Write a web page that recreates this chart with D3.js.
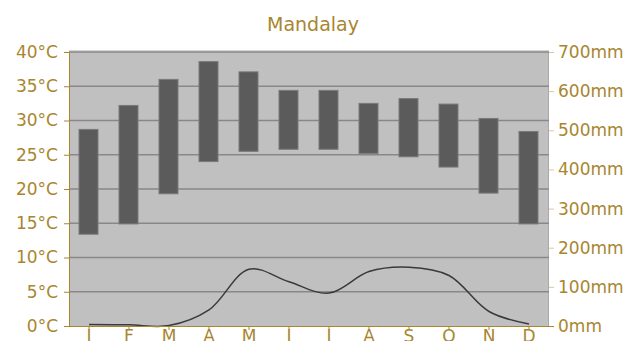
<!DOCTYPE html>
<html>
<head>
<meta charset="utf-8">
<script src="https://cdn.jsdelivr.net/npm/d3@7"></script>
<style>
  html, body { margin: 0; padding: 0; background: #fff; }
  svg { display: block; }
  text { font-family: "DejaVu Sans", Verdana, sans-serif; }
</style>
</head>
<body>
<svg id="chart" width="637" height="341"></svg>
<script>
// Mandalay climate: monthly temperature range (bars) and precipitation (line)
const months = ["Jan", "Feb", "Mar", "Apr", "May", "Jun", "Jul", "Aug", "Sep", "Oct", "Nov", "Dec"];
const monthLabels = ["J", "F", "M", "A", "M", "J", "J", "A", "S", "O", "N", "D"];
const tempHigh = [28.7, 32.2, 36.0, 38.6, 37.1, 34.4, 34.4, 32.5, 33.2, 32.4, 30.3, 28.4];
const tempLow = [13.4, 14.9, 19.3, 24.0, 25.5, 25.8, 25.8, 25.2, 24.7, 23.2, 19.4, 14.9];
const precip = [4, 3, 1, 41, 145, 113, 84, 139, 150, 129, 37, 5];
const tempTicks = [0, 5, 10, 15, 20, 25, 30, 35, 40];
const precipTicks = [0, 100, 200, 300, 400, 500, 600, 700];

const gold = "#a8862f";
const svg = d3.select("#chart");
const plotLeft = 69, plotRight = 549, plotTop = 52, plotBottom = 326;

const x = d3.scaleBand().domain(months).range([plotLeft, plotRight]).padding(0);
const yT = d3.scaleLinear().domain([0, 40]).range([plotBottom, plotTop]);
const yP = d3.scaleLinear().domain([0, 700]).range([plotBottom, plotTop]);
const bw = x.bandwidth();

// title
svg.append("text")
  .attr("x", 313).attr("y", 31)
  .attr("text-anchor", "middle")
  .attr("font-size", 19)
  .attr("fill", gold)
  .text("Mandalay");

// plot background with a soft top edge
svg.append("rect")
  .attr("x", plotLeft).attr("y", plotTop - 2)
  .attr("width", plotRight - plotLeft).attr("height", 2)
  .attr("fill", "#d6d6d6");
svg.append("rect")
  .attr("x", plotLeft).attr("y", plotTop)
  .attr("width", plotRight - plotLeft).attr("height", plotBottom - plotTop)
  .attr("fill", "#c0c0c0");
svg.append("line")
  .attr("x1", plotRight - 0.5).attr("x2", plotRight - 0.5)
  .attr("y1", plotTop).attr("y2", plotBottom)
  .attr("stroke", "#a8a8a8");

// horizontal gridlines
svg.append("g").selectAll("line")
  .data(tempTicks.filter(d => d > 0))
  .join("line")
  .attr("x1", plotLeft).attr("x2", plotRight)
  .attr("y1", d => yT(d)).attr("y2", d => yT(d))
  .attr("stroke", "#888")
  .attr("stroke-width", 1.5);

// temperature range bars
svg.append("g").selectAll("rect")
  .data(months)
  .join("rect")
  .attr("x", d => x(d) + bw * 0.25)
  .attr("width", bw * 0.475)
  .attr("y", (d, i) => yT(tempHigh[i]))
  .attr("height", (d, i) => yT(tempLow[i]) - yT(tempHigh[i]))
  .attr("fill", "#5b5b5b")
  .attr("stroke", "#7a7a7a")
  .attr("stroke-width", 1);

// precipitation line
const line = d3.line()
  .x((d, i) => x(months[i]) + bw / 2)
  .y(d => yP(d))
  .curve(d3.curveCatmullRom.alpha(0.5));
svg.append("path")
  .datum(precip)
  .attr("d", line)
  .attr("fill", "none")
  .attr("stroke", "#3a3a3a")
  .attr("stroke-width", 1.5);

// axes
function styleAxis(g, tickColor) {
  g.selectAll("text").attr("fill", gold).attr("font-size", 17)
    .attr("font-family", "'DejaVu Sans', Verdana, sans-serif");
  g.selectAll("line").attr("stroke", tickColor);
  g.select(".domain").attr("stroke", tickColor);
}

const axL = svg.append("g")
  .attr("transform", `translate(${plotLeft},0)`)
  .call(d3.axisLeft(yT).tickValues(tempTicks).tickFormat(d => d + "°C")
    .tickSize(5).tickSizeOuter(0).tickPadding(6));
styleAxis(axL, gold);

const axR = svg.append("g")
  .attr("transform", `translate(${plotRight},0)`)
  .call(d3.axisRight(yP).tickValues(precipTicks).tickFormat(d => d + "mm")
    .tickSize(5).tickSizeOuter(0).tickPadding(4));
styleAxis(axR, "#d9c9a0");
axR.select(".domain").attr("stroke", "none");

const axB = svg.append("g")
  .attr("transform", `translate(0,${plotBottom})`)
  .call(d3.axisBottom(x).tickFormat((d, i) => monthLabels[i])
    .tickSize(4).tickSizeOuter(0).tickPadding(0));
styleAxis(axB, gold);
axB.select(".domain").attr("d", `M${plotLeft},0.5H${plotRight + 5}`);
</script>
</body>
</html>
